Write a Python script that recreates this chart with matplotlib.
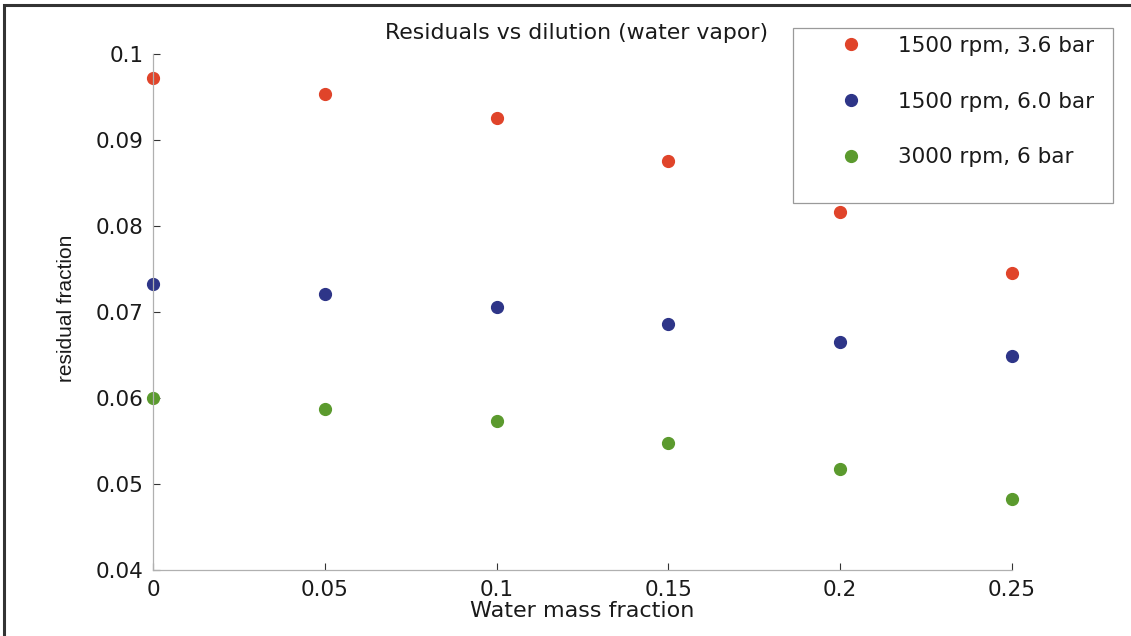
import matplotlib
matplotlib.use("Agg")
import matplotlib.pyplot as plt
from matplotlib.patches import Rectangle

plt.rcParams['font.family'] = ['DejaVu Sans']

# data
water_frac = [0, 0.05, 0.1, 0.15, 0.2, 0.25]
res_1500_36 = [0.0972, 0.0953, 0.0926, 0.0876, 0.0816, 0.0745]
res_1500_60 = [0.0733, 0.0721, 0.0706, 0.0686, 0.0665, 0.0649]
res_3000_6 = [0.0600, 0.0587, 0.0573, 0.0548, 0.0517, 0.0483]
labels = ['1500 rpm, 3.6 bar', '1500 rpm, 6.0 bar', '3000 rpm, 6 bar']
colors = ['#e0442a', '#2e3588', '#5b9a2e']

W, H = 1131, 636
fig = plt.figure(figsize=(W / 100, H / 100), dpi=100)
ax = fig.add_axes([153 / W, 1 - 570 / H, (1012 - 153) / W, (570 - 54) / H])

for ys, c, lab in zip([res_1500_36, res_1500_60, res_3000_6], colors, labels):
    ax.plot(water_frac, ys, 'o', color=c, ms=8.5, mec=c, label=lab, clip_on=False)

ax.set_xlim(0, 0.25)
ax.set_ylim(0.04, 0.1)
ax.set_xticks(water_frac)
ax.set_xticklabels(['0', '0.05', '0.1', '0.15', '0.2', '0.25'])
ax.set_yticks([0.04, 0.05, 0.06, 0.07, 0.08, 0.09, 0.1])
ax.set_yticklabels(['0.04', '0.05', '0.06', '0.07', '0.08', '0.09', '0.1'])
ax.tick_params(direction='in', length=5, width=0.8, color='#333333',
               labelsize=15.5, pad=7, labelcolor='#1a1a1a')
for s in ['top', 'right']:
    ax.spines[s].set_visible(False)
for s in ['left', 'bottom']:
    ax.spines[s].set_color('#b0b0b0')
    ax.spines[s].set_linewidth(0.9)

ax.set_xlabel('Water mass fraction', fontsize=16, labelpad=1, color='#1a1a1a')
fig.text(67 / W, 1 - 308 / H, 'residual fraction', rotation=90, fontsize=15,
         ha='center', va='center', color='#1a1a1a',
         family=['Liberation Sans Narrow', 'Liberation Sans'])
fig.text(577 / W, 1 - 33 / H, 'Residuals vs dilution (water vapor)', fontsize=15.8,
         ha='center', va='center', color='#1a1a1a')

# legend without frame, box drawn separately
leg = fig.legend(loc='upper left', bbox_to_anchor=(840 / W, 1 - 36 / H),
                 frameon=False, fontsize=15.5, handlelength=1.0, handletextpad=1.7,
                 labelspacing=1.65, borderpad=0, borderaxespad=0, labelcolor='#1a1a1a')
fig.add_artist(Rectangle((793 / W, 1 - 203 / H), 320 / W, 175 / H,
                         transform=fig.transFigure, fill=False,
                         edgecolor='#9a9a9a', lw=0.9))

# scan frame
fig.add_artist(Rectangle((4 / W, -0.1), 1.2, 1 - 5 / H + 0.1,
                         transform=fig.transFigure, fill=False,
                         edgecolor='#333333', lw=2.2, clip_on=False))

fig.savefig('out.png', dpi=100)
